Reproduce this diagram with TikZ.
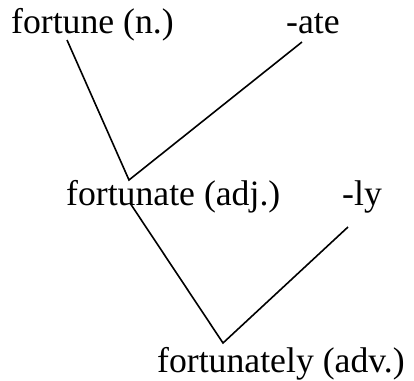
\documentclass[tikz,border=0pt]{standalone}
\usepackage{fontspec}
\setmainfont{Liberation Serif}
\newfontfamily\wordfont{Liberation Serif}
\usetikzlibrary{positioning}
\tikzset{
  word/.style={anchor=base west,inner sep=0pt,
               font=\wordfont\fontsize{35.7bp}{40bp}\selectfont},
  branch/.style={line width=1.6bp,black},
}
\begin{document}
\begin{tikzpicture}[x=1bp,y=-1bp]
  \useasboundingbox (0,0) rectangle (414,381);
  % words of the tree
  \node[word] (fortune) at (11,33) {fortune (n.)};
  \node[word] (ate) at (286,33) {-ate};
  \node[word] (fortunate) at (66,205) {fortunate (adj.)};
  \node[word] (ly) at (342,205) {-ly};
  \node[word] (fortunately) at (157,372) {fortunately (adv.)};
  % ends of the branches
  \coordinate (fortuneEnd) at (67,40);
  \coordinate (ateEnd) at (302,42);
  \coordinate (join1) at (129,180);
  \coordinate (fortunateEnd) at (130,203);
  \coordinate (lyEnd) at (348,227);
  \coordinate (join2) at (223,343);
  \draw[branch] (fortuneEnd) -- (join1) -- (ateEnd);
  \draw[branch] (fortunateEnd) -- (join2) -- (lyEnd);
\end{tikzpicture}
\end{document}
